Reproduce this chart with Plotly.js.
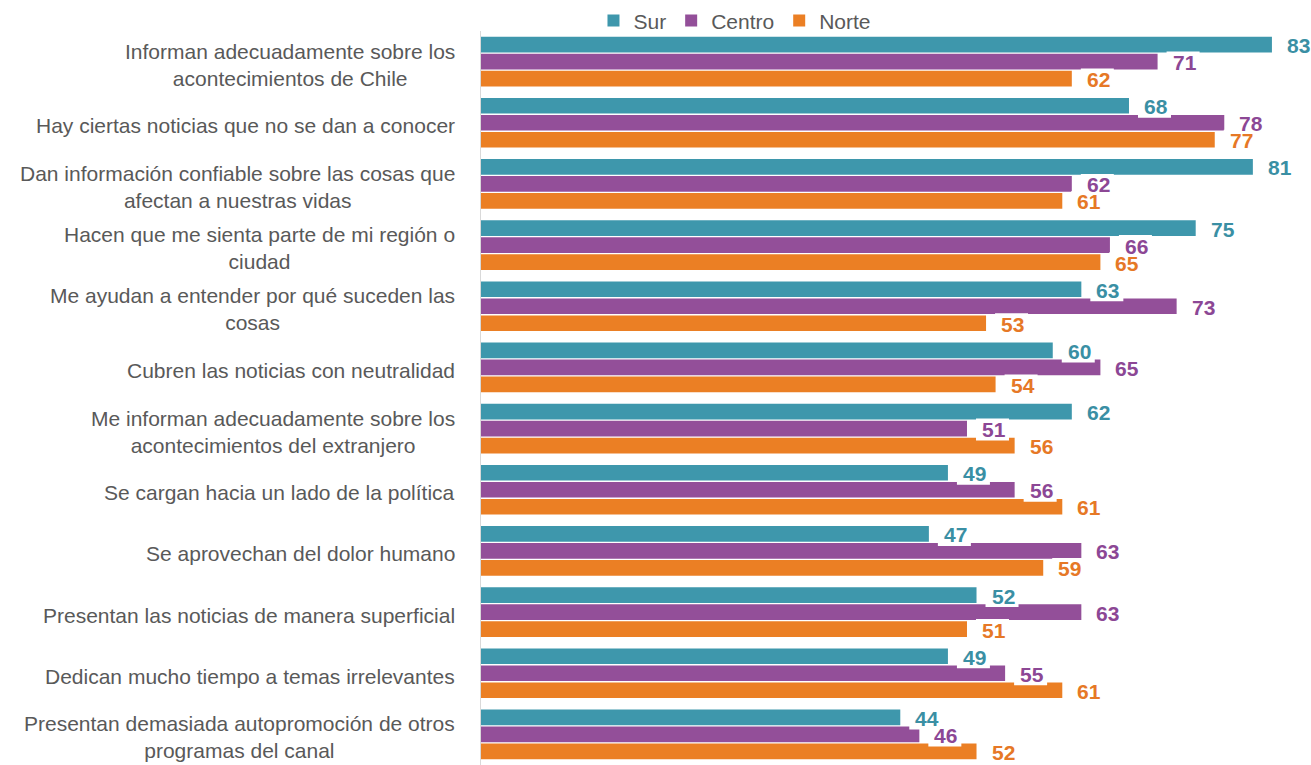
<!DOCTYPE html>
<html>
<head>
<meta charset="utf-8">
<script src="https://cdn.plot.ly/plotly-3.0.1.min.js"></script>
<style>html,body{margin:0;padding:0;background:#fff;}#chart{width:1311px;height:765px;}</style>
</head>
<body>
<div id="chart"></div>
<script>
const categories = [
  "Informan adecuadamente sobre los<br>acontecimientos de Chile",
  "Hay ciertas noticias que no se dan a conocer",
  "Dan información confiable sobre las cosas que<br>afectan a nuestras vidas",
  "Hacen que me sienta parte de mi región o<br>ciudad",
  "Me ayudan a entender por qué suceden las<br>cosas",
  "Cubren las noticias con neutralidad",
  "Me informan adecuadamente sobre los<br>acontecimientos del extranjero",
  "Se cargan hacia un lado de la política",
  "Se aprovechan del dolor humano",
  "Presentan las noticias de manera superficial",
  "Dedican mucho tiempo a temas irrelevantes",
  "Presentan demasiada autopromoción de otros<br>programas del canal"
];
const seriesNames = ["Sur", "Centro", "Norte"];
const sur    = [83, 68, 81, 75, 63, 60, 62, 49, 47, 52, 49, 44];
const centro = [71, 78, 62, 66, 73, 65, 51, 56, 63, 63, 55, 46];
const norte  = [62, 77, 61, 65, 53, 54, 56, 61, 59, 51, 61, 52];

const barColors = ["#3E97AC", "#934F99", "#EB7F24"];
const labelColors = ["#3A8FA4", "#8C4795", "#E67826"];
const values = [sur, centro, norte];

const FONT = "Liberation Sans, Arial, sans-serif";
const bargap = 0.167;
const step = (1 - bargap) / 3;

const traces = values.map((v, k) => ({
  type: "bar",
  orientation: "h",
  name: seriesNames[k],
  x: v,
  y: categories,
  marker: {color: barColors[k]},
  hoverinfo: "x+name"
}));

const annotations = [];
const shapes = [];
categories.forEach((c, i) => {
  annotations.push({
    xref: "paper", yref: "y", x: 0, y: i,
    xanchor: "right", yanchor: "middle", xshift: -24, yshift: -3,
    align: "center", showarrow: false, text: c,
    font: {family: FONT, size: 21, color: "#595959"}
  });
});
values.forEach((v, k) => {
  v.forEach((val, i) => {
    const yc = i + (k - 1) * step;
    // white label background box (like the original's label fill)
    shapes.push({
      type: "rect", layer: "above",
      xref: "x", yref: "y",
      xsizemode: "pixel", ysizemode: "pixel",
      xanchor: val, yanchor: yc,
      x0: 9, x1: 42, y0: -12, y1: 10,
      fillcolor: "#ffffff", line: {width: 0}
    });
    annotations.push({
      xref: "x", yref: "y", x: val, y: yc,
      xanchor: "left", yanchor: "middle", xshift: 14, yshift: -1,
      showarrow: false, text: String(val), borderpad: 0,
      font: {family: FONT, size: 21, color: labelColors[k], weight: "bold"}
    });
  });
});

const layout = {
  width: 1311, height: 765,
  margin: {l: 481, r: 0, t: 31, b: 0, autoexpand: false},
  paper_bgcolor: "#ffffff", plot_bgcolor: "#ffffff",
  barmode: "group", bargap: bargap, bargroupgap: 0.08,
  showlegend: true,
  legend: {
    orientation: "h", x: 0.306, xanchor: "center", y: 0.986, yanchor: "bottom",
    bgcolor: "rgba(0,0,0,0)",
    font: {family: FONT, size: 21, color: "#595959"},
    traceorder: "normal", itemwidth: 30
  },
  xaxis: {range: [0, 87.1], autorange: false, showgrid: false, zeroline: false, showticklabels: false, showline: false, ticks: ""},
  yaxis: {type: "category", range: [categories.length - 0.5, -0.5], autorange: false,
          showticklabels: false, showgrid: false, zeroline: false,
          showline: true, linecolor: "#d9d9d9", linewidth: 1, ticks: ""},
  shapes: shapes,
  annotations: annotations
};

Plotly.newPlot("chart", traces, layout, {displayModeBar: false, staticPlot: true});
</script>
</body>
</html>
